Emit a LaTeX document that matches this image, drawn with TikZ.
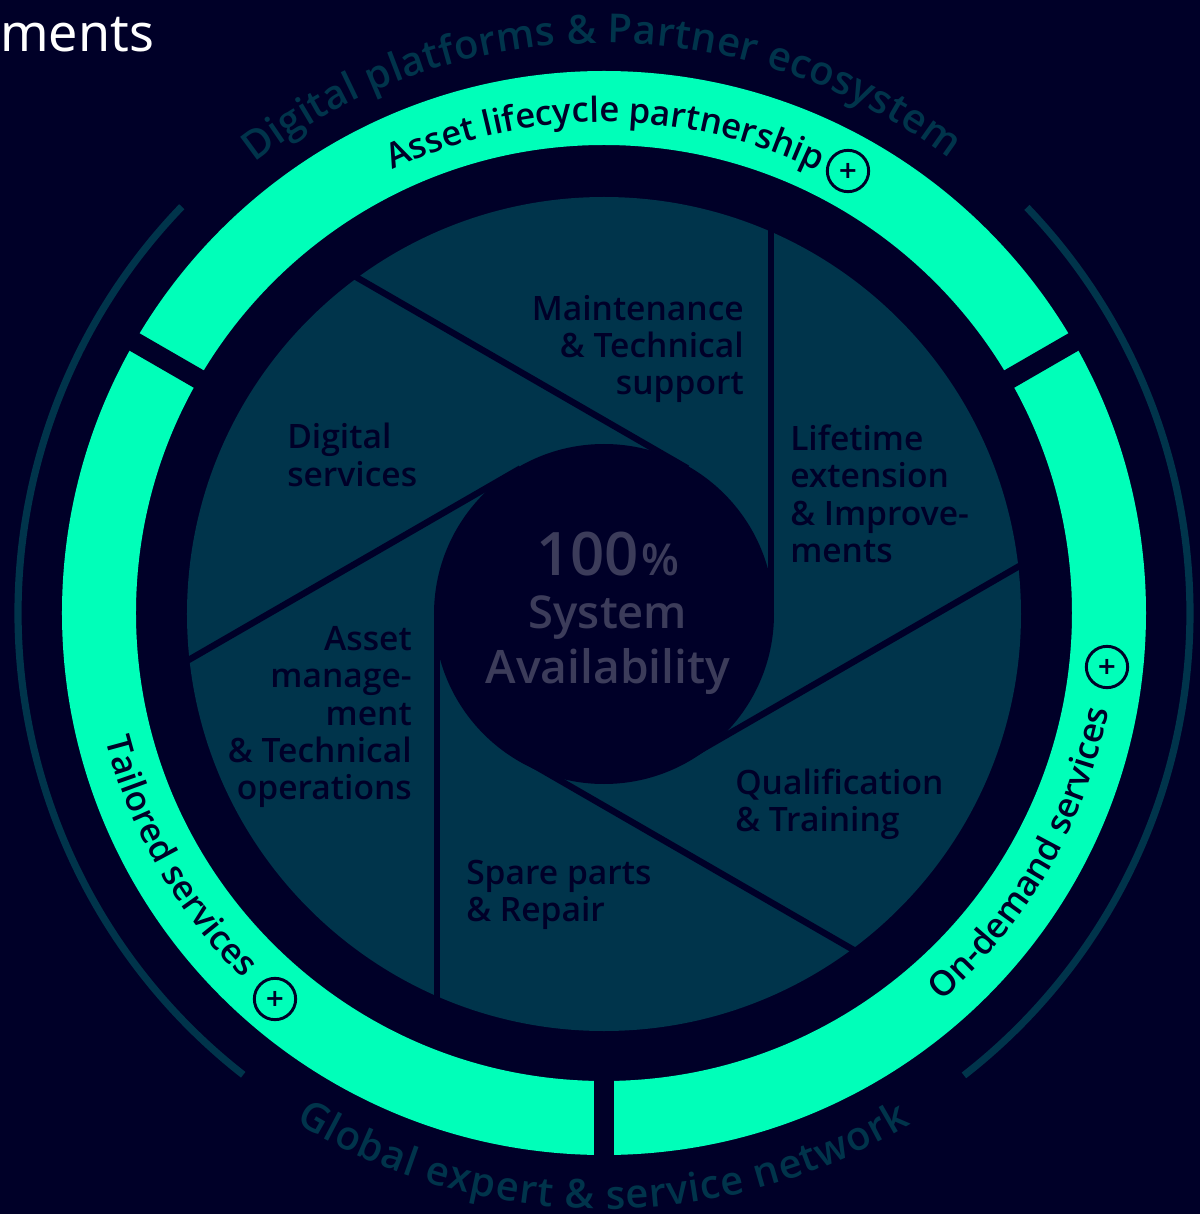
\documentclass[tikz,border=0pt]{standalone}
\usepackage{fontspec}
\usepackage{tikz}
\setmainfont{Noto Sans}
\IfFontExistsTF{Open Sans Semibold}{\newfontfamily\semifont{Open Sans Semibold}}{\IfFontExistsTF{Open Sans SemiBold}{\newfontfamily\semifont{Open Sans SemiBold}}{\newfontfamily\semifont{Noto Sans Bold}}}
\newfontfamily\plusfont{DejaVu Sans}
\usetikzlibrary{decorations.text}
\definecolor{nn}{RGB}{0, 0, 40}
\definecolor{tt}{RGB}{0, 255, 185}
\definecolor{dd}{RGB}{0, 52, 75}
\definecolor{hh}{RGB}{60, 60, 90}
\def\ringout{542}
\def\ringin{468}
\def\discr{417}
\def\hubr{170}
\def\bladed{167}
\tikzset{
	bladeline/.style={color=nn,line width=4.8pt},
	gapline/.style={color=nn,line width=15pt},
	sideline/.style={color=dd,line width=5.4pt},
	disclabel/.style={color=nn,inner sep=0pt,font=\semifont\fontsize{25.2}{28.1}\selectfont},
	plusmark/.style={circle,draw=nn,line width=2.2pt,minimum size=31pt,inner sep=0pt,color=nn,font=\plusfont\bfseries\fontsize{18}{18}\selectfont}
}
\newcommand{\curvelabel}[5]{\path[decorate,decoration={text along path,text align=fit to path,text={|#4|#5}}] (#2:#1) arc[start angle=#2,end angle=#3,radius=#1];}
\begin{document}
\begin{tikzpicture}[x=0.75pt,y=0.75pt]
\useasboundingbox (-604,-601) rectangle (596,613);
\fill[nn] (-604,-601) rectangle (596,613);
\coordinate (hub) at (0,0);

% ring and its three cuts
\fill[tt,even odd rule] (hub) circle (\ringout) (hub) circle (\ringin);
\foreach \a in {30,150,270} {\draw[gapline] (hub) -- (\a:560);}

% disc and blades
\fill[dd] (0,-1) circle (\discr);
\foreach \a in {0,60,120,180,240,300} {\draw[bladeline] (\a:\bladed) -- ++(\a+90:395);}
\fill[nn] (0,-1) circle (\hubr);

% arcs left and right
\draw[sideline] (136.1:586) arc[start angle=136.1,end angle=232,radius=586];
\draw[sideline] (43.8:586) arc[start angle=43.8,end angle=-52.1,radius=586];

\curvelabel{570}{127.8}{52.8}{\semifont\fontsize{30}{30}\selectfont\color{dd}}{Digital platforms {\&} Partner ecosystem}
\curvelabel{596}{238.8}{301}{\semifont\fontsize{30}{30}\selectfont\color{dd}}{Global expert {\&} service network}
\curvelabel{491}{115.5}{65.2}{\semifont\fontsize{26}{27}\selectfont\color{nn}}{Asset lifecycle partnership}
\curvelabel{514}{-49}{-11.2}{\semifont\fontsize{26}{27}\selectfont\color{nn}}{On-demand services}
\curvelabel{514}{194.2}{224.8}{\semifont\fontsize{26}{27}\selectfont\color{nn}}{Tailored services}

\node[plusmark] (plusa) at (244,442) {+};
\node[plusmark] (plusb) at (503,-54) {+};
\node[plusmark] (plusc) at (-329,-386) {+};

\node[disclabel,anchor=east,align=right] (maint) at (140,264) {Maintenance\\\& Technical\\support};
\node[disclabel,anchor=west,align=left] (digi) at (-317,158) {Digital\\services};
\node[disclabel,anchor=west,align=left] (life) at (186,119) {Lifetime\\extension\\\& Improve-\\ments};
\node[disclabel,anchor=west,align=left] (qual) at (131,-191) {Qualification\\\& Training};
\node[disclabel,anchor=west,align=left] (spare) at (-138,-282) {Spare parts\\\& Repair};
\node[disclabel,anchor=east,align=right] (asset) at (-192,-104) {Asset\\manage-\\ment\\\& Technical\\operations};

\node[color=hh,inner sep=0pt,anchor=base] (pct) at (4,38) {\semifont\fontsize{45}{45}\selectfont 100{\fontsize{33}{33}\selectfont\kern2pt\%}};
\node[color=hh,inner sep=0pt,anchor=base] (sys) at (4,-15) {\semifont\fontsize{34}{34}\selectfont System};
\node[color=hh,inner sep=0pt,anchor=base] (avail) at (4,-70) {\semifont\fontsize{34.6}{34}\selectfont Availability};

\node[color=white,inner sep=0pt,anchor=base west] (title) at (-604,561) {\fontsize{39}{39}\selectfont ments};
\end{tikzpicture}
\end{document}
